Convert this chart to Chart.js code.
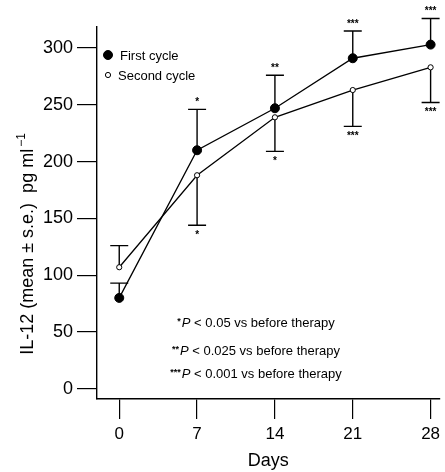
<!DOCTYPE html>
<html><head><meta charset="utf-8">
<style>html,body{margin:0;padding:0;background:#fff;}</style>
<script src="https://cdn.jsdelivr.net/npm/chart.js@4/dist/chart.umd.min.js"></script>
</head><body>
<canvas id="c" width="445" height="472" style="width:445px;height:472px;display:block"></canvas>
<script>
const days = [0, 7, 14, 21, 28];
const firstCycle = [80, 210, 247, 291, 303];
const firstSE = [13, 36, 29, 24, 23];
const firstErrDir = [1, 1, 1, 1, 1];
const firstStars = [0, 1, 2, 3, 3];
const secondCycle = [107, 188, 239, 263, 283];
const secondSE = [19, 44, 30, 32, 31];
const secondErrDir = [1, -1, -1, -1, -1];
const secondStars = [0, 1, 1, 3, 3];
const xTicks = [0, 7, 14, 21, 28];
const yTicks = [0, 50, 100, 150, 200, 250, 300];
const seriesLabels = ['First cycle', 'Second cycle'];
const yTitle = ['IL-12 (mean \u00b1 s.e.)  pg ml', '\u22121'];
const footnotes = [
  ['*', 'P', ' < 0.05 vs before therapy'],
  ['**', 'P', ' < 0.025 vs before therapy'],
  ['***', 'P', ' < 0.001 vs before therapy']
];
const FONT = "'Liberation Sans', Arial, Helvetica, sans-serif";

const errSets = [
  {values: firstCycle, se: firstSE, dir: firstErrDir, stars: firstStars},
  {values: secondCycle, se: secondSE, dir: secondErrDir, stars: secondStars}
];

const errorBarPlugin = {
  id: 'errbars',
  beforeDatasetsDraw(chart) {
    const {ctx, scales: {x, y}} = chart;
    ctx.save();
    ctx.strokeStyle = '#000';
    ctx.fillStyle = '#000';
    ctx.lineWidth = 1.4;
    ctx.textAlign = 'center';
    ctx.textBaseline = 'middle';
    ctx.font = 'bold 10px ' + FONT;
    errSets.forEach(s => {
      s.values.forEach((v, i) => {
        const px = x.getPixelForValue(days[i]);
        const py0 = y.getPixelForValue(v);
        const py1 = y.getPixelForValue(v + s.dir[i] * s.se[i]);
        ctx.beginPath();
        ctx.moveTo(px, py0); ctx.lineTo(px, py1);
        ctx.moveTo(px - 9, py1); ctx.lineTo(px + 9, py1);
        ctx.stroke();
        const n = s.stars[i];
        if (n) {
          const off = s.dir[i] > 0 ? -7 : 10;
          ctx.fillText('*'.repeat(n), px, py1 + off);
        }
      });
    });
    ctx.restore();
  }
};

const legendNotesPlugin = {
  id: 'legendnotes',
  afterDraw(chart) {
    const {ctx} = chart;
    ctx.save();
    ctx.fillStyle = '#000';
    ctx.strokeStyle = '#000';
    ctx.textBaseline = 'middle';
    ctx.textAlign = 'left';
    // legend
    const ly = [55, 75];
    chart.data.datasets.forEach((ds, i) => {
      ctx.beginPath();
      ctx.arc(108, ly[i], ds.pointRadius, 0, Math.PI * 2);
      ctx.fillStyle = ds.pointBackgroundColor;
      ctx.fill();
      ctx.lineWidth = ds.pointBorderWidth;
      ctx.stroke();
      ctx.fillStyle = '#000';
      ctx.font = '13px ' + FONT;
      ctx.fillText(ds.label, i === 0 ? 120 : 118, ly[i] + 1);
    });
    // footnotes
    const fy = [323, 351, 374];
    footnotes.forEach((f, i) => {
      ctx.font = 'bold 9px ' + FONT;
      const w0 = ctx.measureText(f[0]).width;
      ctx.font = 'italic 13px ' + FONT;
      const w1 = ctx.measureText(f[1]).width;
      ctx.font = '13px ' + FONT;
      const w2 = ctx.measureText(f[2]).width;
      let sx = 256 - (w0 + 1 + w1 + w2) / 2;
      ctx.font = 'bold 9px ' + FONT;
      ctx.fillText(f[0], sx, fy[i] - 1);
      sx += w0 + 1;
      ctx.font = 'italic 13px ' + FONT;
      ctx.fillText(f[1], sx, fy[i]);
      sx += w1;
      ctx.font = '13px ' + FONT;
      ctx.fillText(f[2], sx, fy[i]);
    });
    // y axis title (rotated)
    ctx.translate(33, 244);
    ctx.rotate(-Math.PI / 2);
    ctx.textBaseline = 'alphabetic';
    ctx.font = '18px ' + FONT;
    const wMain = ctx.measureText(yTitle[0]).width;
    ctx.font = '12px ' + FONT;
    const wSup = ctx.measureText(yTitle[1]).width;
    const tx = -(wMain + 2 + wSup) / 2;
    ctx.font = '18px ' + FONT;
    ctx.fillText(yTitle[0], tx, 0);
    ctx.font = '12px ' + FONT;
    ctx.fillText(yTitle[1], tx + wMain + 2, -8);
    ctx.restore();
  }
};

new Chart(document.getElementById('c'), {
  type: 'line',
  data: {
    datasets: [
      {
        label: seriesLabels[0],
        data: days.map((d, i) => ({x: d, y: firstCycle[i]})),
        borderColor: '#000', borderWidth: 1.3,
        pointRadius: 4.5, pointBackgroundColor: '#000', pointBorderColor: '#000', pointBorderWidth: 1,
        tension: 0, clip: false
      },
      {
        label: seriesLabels[1],
        data: days.map((d, i) => ({x: d, y: secondCycle[i]})),
        borderColor: '#000', borderWidth: 1.3,
        pointRadius: 2.6, pointBackgroundColor: '#fff', pointBorderColor: '#000', pointBorderWidth: 1,
        tension: 0, clip: false
      }
    ]
  },
  options: {
    responsive: false,
    animation: false,
    layout: {padding: {top: 27, left: 0, right: 0, bottom: 0}},
    plugins: {legend: {display: false}, tooltip: {enabled: false}},
    scales: {
      x: {
        type: 'linear', min: -2, max: 28.8,
        afterBuildTicks: s => { s.ticks = xTicks.map(v => ({value: v})); },
        afterFit: s => { s.height = 73; s.paddingLeft = 0; s.paddingRight = 0; },
        grid: {display: true, drawOnChartArea: false, drawTicks: true, tickLength: 20, color: '#000', lineWidth: 1.2},
        border: {display: true, color: '#000', width: 1.4},
        ticks: {color: '#000', font: {family: FONT, size: 17}, padding: 5, maxRotation: 0},
        title: {display: true, text: 'Days', color: '#000', font: {family: FONT, size: 18}, padding: {top: 0, bottom: 0}}
      },
      y: {
        type: 'linear', min: -9, max: 318.5,
        afterBuildTicks: s => { s.ticks = yTicks.map(v => ({value: v})); },
        afterFit: s => { s.width = 97; s.paddingTop = 0; s.paddingBottom = 0; },
        grid: {display: true, drawOnChartArea: false, drawTicks: true, tickLength: 20, color: '#000', lineWidth: 1.2},
        border: {display: true, color: '#000', width: 1.4},
        ticks: {color: '#000', font: {family: FONT, size: 18}, padding: 4},
        title: {display: false}
      }
    }
  },
  plugins: [errorBarPlugin, legendNotesPlugin]
});
</script>
</body></html>
